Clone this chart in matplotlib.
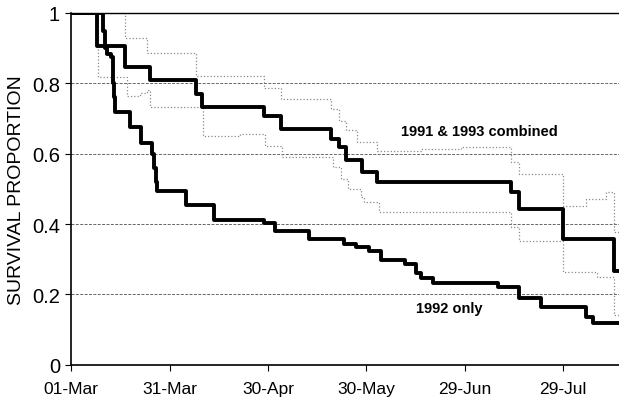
import matplotlib
matplotlib.use('Agg')
import matplotlib.pyplot as plt

# days after 01-Mar, survival proportion (step after)
comb_days = [0, 7.9, 16.5, 24.1, 38.2, 40.0, 58.7, 63.9, 79.1, 81.6, 83.7, 88.6, 93.2,
             134.2, 136.7, 150.1, 165.4]
comb_surv = [1.0, 0.907, 0.846, 0.81, 0.77, 0.733, 0.707, 0.670, 0.643, 0.619, 0.582,
             0.549, 0.519, 0.491, 0.443, 0.358, 0.267]

y92_days = [0, 9.7, 10.3, 10.9, 12.2, 12.8, 13.1, 13.4, 18.0, 21.3, 24.7, 25.3, 25.9, 26.2,
            35.1, 43.4, 58.7, 62.3, 72.4, 83.1, 86.8, 90.8, 94.4, 101.8, 105.1, 106.7,
            110.4, 130.2, 136.7, 143.4, 157.1, 159.0]
y92_surv = [1.0, 0.95, 0.90, 0.883, 0.875, 0.80, 0.76, 0.718, 0.676, 0.630, 0.599, 0.56,
            0.52, 0.495, 0.455, 0.412, 0.403, 0.38, 0.357, 0.343, 0.335, 0.323, 0.298,
            0.286, 0.26, 0.246, 0.232, 0.222, 0.19, 0.165, 0.136, 0.118]

# confidence limits for the combined curve
up_days = [0, 16.5, 23.2, 38.2, 58.7, 63.9, 79.1, 81.6, 83.7, 87.1, 93.2, 106.7, 119.0,
           134.2, 136.7, 150.1, 157.1, 163.2, 165.4]
up_surv = [1.0, 0.93, 0.885, 0.82, 0.786, 0.755, 0.727, 0.692, 0.668, 0.633, 0.608, 0.612,
           0.618, 0.576, 0.542, 0.451, 0.47, 0.49, 0.377]

lo_days = [0, 8.3, 17.1, 21.0, 23.2, 24.1, 40.3, 51.6, 59.2, 64.4, 79.8, 82.2, 84.3, 88.3,
           89.2, 93.8, 125.0, 134.2, 136.7, 150.1, 160.2, 165.4]
lo_surv = [1.0, 0.818, 0.765, 0.772, 0.78, 0.732, 0.651, 0.655, 0.623, 0.59, 0.561, 0.528,
           0.5, 0.477, 0.462, 0.433, 0.435, 0.391, 0.353, 0.264, 0.25, 0.14]

tick_days = [0, 30, 60, 90, 120, 150]
tick_labels = ['01-Mar', '31-Mar', '30-Apr', '30-May', '29-Jun', '29-Jul']

x_end = 168

sans = ['Liberation Sans', 'DejaVu Sans']

fig = plt.figure(figsize=(6.19, 4.10), dpi=100)
ax = fig.add_axes([0.115, 0.108, 0.89, 0.858])

for v in [0.2, 0.4, 0.6, 0.8]:
    ax.axhline(v, color='#666666', lw=0.7, ls=(0, (3, 1.5)), zorder=1)

ax.step(up_days + [x_end], up_surv + [up_surv[-1]], where='post',
        color='#8a8a8a', lw=0.9, ls=':', zorder=2)
ax.step(lo_days + [x_end], lo_surv + [lo_surv[-1]], where='post',
        color='#8a8a8a', lw=0.9, ls=':', zorder=2)
ax.step(comb_days + [x_end], comb_surv + [comb_surv[-1]], where='post',
        color='black', lw=2.8, zorder=3)
ax.step(y92_days + [x_end], y92_surv + [y92_surv[-1]], where='post',
        color='black', lw=2.8, zorder=3)

ax.text(124.5, 0.665, '1991 & 1993 combined', fontsize=10.5, fontweight='bold',
        family=sans, ha='center', va='center')
ax.text(115.3, 0.16, '1992 only', fontsize=10.5, fontweight='bold',
        family=sans, ha='center', va='center')

ax.set_xlim(0, x_end)
ax.set_ylim(0, 1)
ax.set_xticks(tick_days)
ax.set_xticklabels(tick_labels, family=sans, fontsize=12.5)
ax.set_yticks([0, 0.2, 0.4, 0.6, 0.8, 1])
ax.set_yticklabels(['0', '0.2', '0.4', '0.6', '0.8', '1'], family=sans, fontsize=14.5)
ax.tick_params(axis='x', direction='out', length=4, width=0.8, pad=8)
ax.tick_params(axis='y', direction='out', length=4, width=0.8, pad=4)
ax.set_ylabel('SURVIVAL PROPORTION', fontsize=14, family=sans, labelpad=5)

ax.spines['right'].set_visible(False)
ax.spines['top'].set_linewidth(1.0)
ax.spines['left'].set_linewidth(1.2)
ax.spines['bottom'].set_linewidth(1.2)

fig.savefig('out.png', dpi=100)
